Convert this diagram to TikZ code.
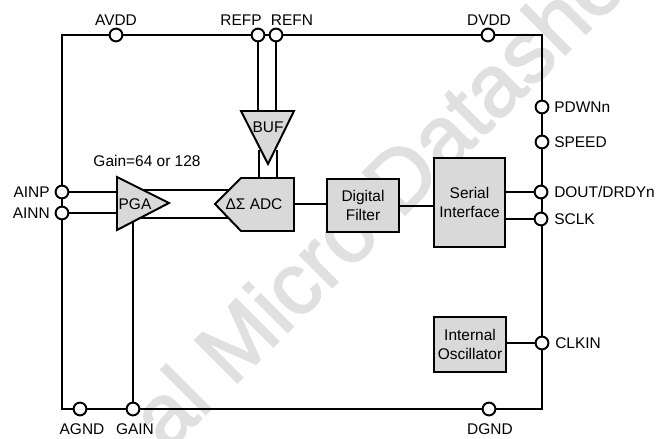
\documentclass[tikz,border=0pt]{standalone}
\usepackage{fontspec}
\setmainfont{Liberation Sans}
\newfontfamily\markfont[FakeBold=2]{Liberation Sans}
\tikzset{
	wire/.style={line width=1.4pt, line join=miter},
	blockbox/.style={draw, line width=1.4pt, fill=black!15, align=center, inner sep=0pt, font=\fontsize{11}{13.5}\selectfont},
	blockshape/.style={draw, line width=1.4pt, fill=black!15, line join=miter},
	pin/.style={circle, draw, line width=1.4pt, fill=white, inner sep=0pt, minimum size=0.32cm},
	pinlabel/.style={inner sep=0pt, font=\fontsize{11}{13}\selectfont},
	blocklabel/.style={inner sep=0pt, align=center, font=\fontsize{11}{13}\selectfont},
}
\begin{document}
\begin{tikzpicture}[x=0.025cm, y=-0.025cm]
	\useasboundingbox (0,0) rectangle (656,439);

	% Watermark
	\begin{scope}
		\clip (0,0) rectangle (656,439);
		\node[text=black!12, rotate=45, inner sep=0pt, anchor=base west, font=\markfont\fontsize{62}{62}\selectfont] (mark) at (167,453) {al Micro Datasheet};
	\end{scope}

	% Outer frame
	\coordinate (frameNW) at (62,35);
	\coordinate (frameNE) at (542,35);
	\coordinate (frameSE) at (542,409);
	\coordinate (frameSW) at (62,409);
	\draw[wire] (frameNW) -- (frameNE) -- (frameSE) -- (frameSW) -- cycle;

	% Top pins
	\node[pin] (avdd) at (116,35) {};
	\node[pin] (refp) at (258,35) {};
	\node[pin] (refn) at (276,35) {};
	\node[pin] (dvdd) at (488,35) {};
	\node[pinlabel] (avddlabel) at (116,20) {AVDD};
	\node[pinlabel] (refplabel) at (241,20) {REFP};
	\node[pinlabel] (refnlabel) at (292,20) {REFN};
	\node[pinlabel] (dvddlabel) at (489,20) {DVDD};

	% Right pins
	\node[pin] (pdwn) at (542,107) {};
	\node[pin] (speed) at (542,142) {};
	\node[pin] (dout) at (541,192) {};
	\node[pin] (sclk) at (541,219) {};
	\node[pin] (clkin) at (542,343) {};
	\node[pinlabel, anchor=west] (pdwnlabel) at (554,107) {PDWNn};
	\node[pinlabel, anchor=west] (speedlabel) at (554,142) {SPEED};
	\node[pinlabel, anchor=west] (doutlabel) at (554,192) {DOUT/DRDYn};
	\node[pinlabel, anchor=west] (sclklabel) at (554,219) {SCLK};
	\node[pinlabel, anchor=west] (clkinlabel) at (555,343) {CLKIN};

	% Left pins
	\node[pin] (ainp) at (62,192) {};
	\node[pin] (ainn) at (62,213) {};
	\node[pinlabel, anchor=east] (ainplabel) at (50,192) {AINP};
	\node[pinlabel, anchor=east] (ainnlabel) at (50,213) {AINN};

	% Bottom pins
	\node[pin] (agnd) at (80,409) {};
	\node[pin] (gain) at (133,409) {};
	\node[pin] (dgnd) at (489,409) {};
	\node[pinlabel] (agndlabel) at (82,429) {AGND};
	\node[pinlabel] (gainlabel) at (135,429) {GAIN};
	\node[pinlabel] (dgndlabel) at (490,429) {DGND};

	% Rectangular blocks
	\node[blockbox, minimum width=1.8cm, minimum height=1.325cm] (filter) at (363,205.5) {Digital\\Filter};
	\node[blockbox, minimum width=1.775cm, minimum height=2.225cm] (serial) at (469.5,202.5) {Serial\\Interface};
	\node[blockbox, minimum width=1.8cm, minimum height=1.375cm] (osc) at (470,344.5) {Internal\\Oscillator};

	% Corners of the BUF, PGA and ADC shapes
	\coordinate (bufW) at (241,111);
	\coordinate (bufE) at (294,111);
	\coordinate (bufS) at (268,164);
	\coordinate (pgaN) at (117,177);
	\coordinate (pgaS) at (117,230);
	\coordinate (pgaE) at (169,203);
	\coordinate (adcW) at (215,204);
	\coordinate (adcNW) at (241,178);
	\coordinate (adcNE) at (294,178);
	\coordinate (adcSE) at (294,231);
	\coordinate (adcSW) at (241,231);
	\coordinate (adcout) at (294,204);
	\coordinate (filterin) at (327,204);
	\coordinate (filterout) at (399,206);
	\coordinate (serialin) at (434,206);

	% Connectors
	\draw[wire] (refp) -- (refp |- bufW);
	\draw[wire] (refn) -- (refn |- bufW);
	\draw[wire] (259,150) -- (259,178);
	\draw[wire] (277,150) -- (277,178);
	\draw[wire] (ainp) -- (ainp -| pgaN);
	\draw[wire] (ainn) -- (ainn -| pgaN);
	\draw[wire] (140,190) -- (232,190);
	\draw[wire] (140,218) -- (232,218);
	\draw[wire] (gain) -- (133,220);
	\draw[wire] (adcout) -- (filterin);
	\draw[wire] (filterout) -- (serialin);
	\draw[wire] (serial.east |- dout) -- (dout);
	\draw[wire] (serial.east |- sclk) -- (sclk);
	\draw[wire] (osc.east |- clkin) -- (clkin);

	% BUF, PGA and ADC
	\draw[blockshape] (bufW) -- (bufE) -- (bufS) -- cycle;
	\draw[blockshape] (pgaN) -- (pgaE) -- (pgaS) -- cycle;
	\draw[blockshape] (adcW) -- (adcNW) -- (adcNE) -- (adcSE) -- (adcSW) -- cycle;
	\node[blocklabel] (buflabel) at (268,127) {BUF};
	\node[blocklabel] (pgalabel) at (135,204) {PGA};
	\node[blocklabel] (adclabel) at (254,204) {ΔΣ ADC};
	\node[blocklabel] (gainnote) at (147,161) {Gain=64 or 128};
\end{tikzpicture}
\end{document}
